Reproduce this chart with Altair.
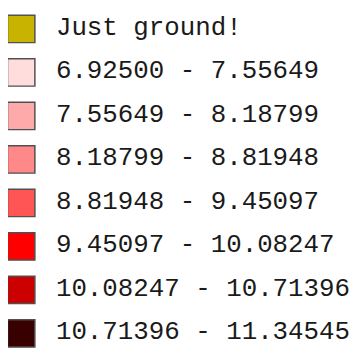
import altair as alt
import pandas as pd

labels = [
    "Just ground!",
    "6.92500 - 7.55649",
    "7.55649 - 8.18799",
    "8.18799 - 8.81948",
    "8.81948 - 9.45097",
    "9.45097 - 10.08247",
    "10.08247 - 10.71396",
    "10.71396 - 11.34545",
]
colors = [
    "#c8b400",
    "#ffdddd",
    "#ffaaaa",
    "#ff8888",
    "#ff5555",
    "#ff0000",
    "#cc0000",
    "#380000",
]

df = pd.DataFrame({"label": labels, "color": colors})

y = alt.Y("label:N", sort=labels, axis=None,
          scale=alt.Scale(type="point", range=[17.5, 329], padding=0))

squares = alt.Chart(df).mark_square(
    size=784, opacity=1, stroke="#505050", strokeWidth=1.5
).encode(
    x=alt.value(13.5),
    y=y,
    color=alt.Color("color:N", scale=None),
)

texts = alt.Chart(df).mark_text(
    align="left", baseline="alphabetic", dy=6,
    font="Liberation Mono", fontSize=26.4, color="#1a1a1a"
).encode(
    x=alt.value(49),
    y=y,
    text="label:N",
)

chart = alt.layer(squares, texts).properties(
    width=355, height=340,
    autosize=alt.AutoSizeParams(type="none"),
    padding=0,
).configure_view(stroke=None)

chart.save("out.html", embed_options={"renderer": "svg", "actions": False})
